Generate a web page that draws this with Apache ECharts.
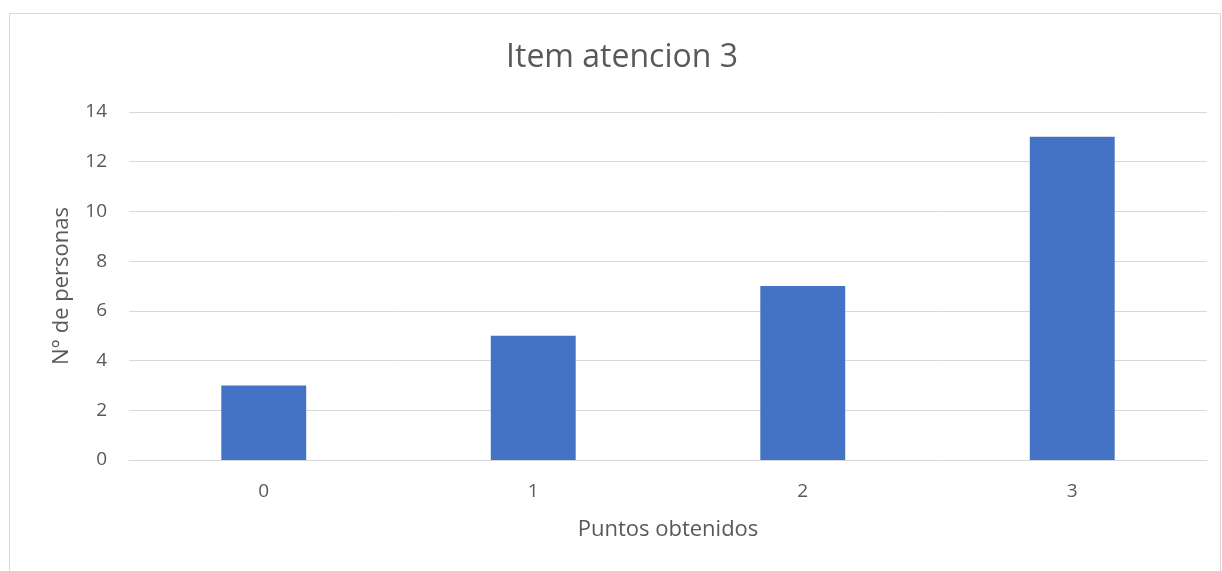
<!DOCTYPE html>
<html>
<head>
<meta charset="utf-8">
<script src="https://cdn.jsdelivr.net/npm/echarts@6/dist/echarts.min.js"></script>
<style>
html,body{margin:0;padding:0;background:#fff;}
#chart{width:1222px;height:571px;}
</style>
</head>
<body>
<div id="chart"></div>
<script>
const categories = ['0', '1', '2', '3'];
const values = [3, 5, 7, 13];
const yTicks = { min: 0, max: 14, interval: 2 };

const chart = echarts.init(document.getElementById('chart'));
const font = '"Open Sans", "Noto Sans", sans-serif';
chart.setOption({
  animation: false,
  backgroundColor: '#fff',
  graphic: [{
    type: 'rect',
    shape: { x: 9.5, y: 13.5, width: 1211, height: 620 },
    style: { fill: 'none', stroke: '#d9d9d9', lineWidth: 1 },
    silent: true
  }, {
    type: 'text',
    x: 622,
    y: 58,
    style: {
      text: 'Item atencion 3',
      fontFamily: font, fontSize: 32, fill: '#595959',
      align: 'center', verticalAlign: 'middle'
    },
    silent: true
  }],
  grid: { left: 129, right: 15, top: 112, bottom: 111, containLabel: false },
  xAxis: {
    type: 'category',
    data: categories,
    name: 'Puntos obtenidos',
    nameLocation: 'middle',
    nameGap: 59,
    nameTextStyle: { fontFamily: font, fontSize: 22, color: '#595959' },
    axisLine: { show: true, lineStyle: { color: '#d9d9d9', width: 1 } },
    axisTick: { show: false },
    axisLabel: { fontFamily: font, fontSize: 19, color: '#595959', margin: 22 }
  },
  yAxis: {
    type: 'value',
    min: yTicks.min,
    max: yTicks.max,
    interval: yTicks.interval,
    name: 'N° de personas',
    nameLocation: 'middle',
    nameGap: 56,
    nameRotate: 90,
    nameTextStyle: { fontFamily: font, fontSize: 22, color: '#595959' },
    axisLine: { show: false },
    axisTick: { show: false },
    axisLabel: { fontFamily: font, fontSize: 19, color: '#595959', margin: 22 },
    splitLine: { lineStyle: { color: '#d9d9d9', width: 1 } }
  },
  series: [{
    type: 'bar',
    data: values,
    barWidth: '31.5%',
    itemStyle: { color: '#4472C4' }
  }]
});
</script>
</body>
</html>
